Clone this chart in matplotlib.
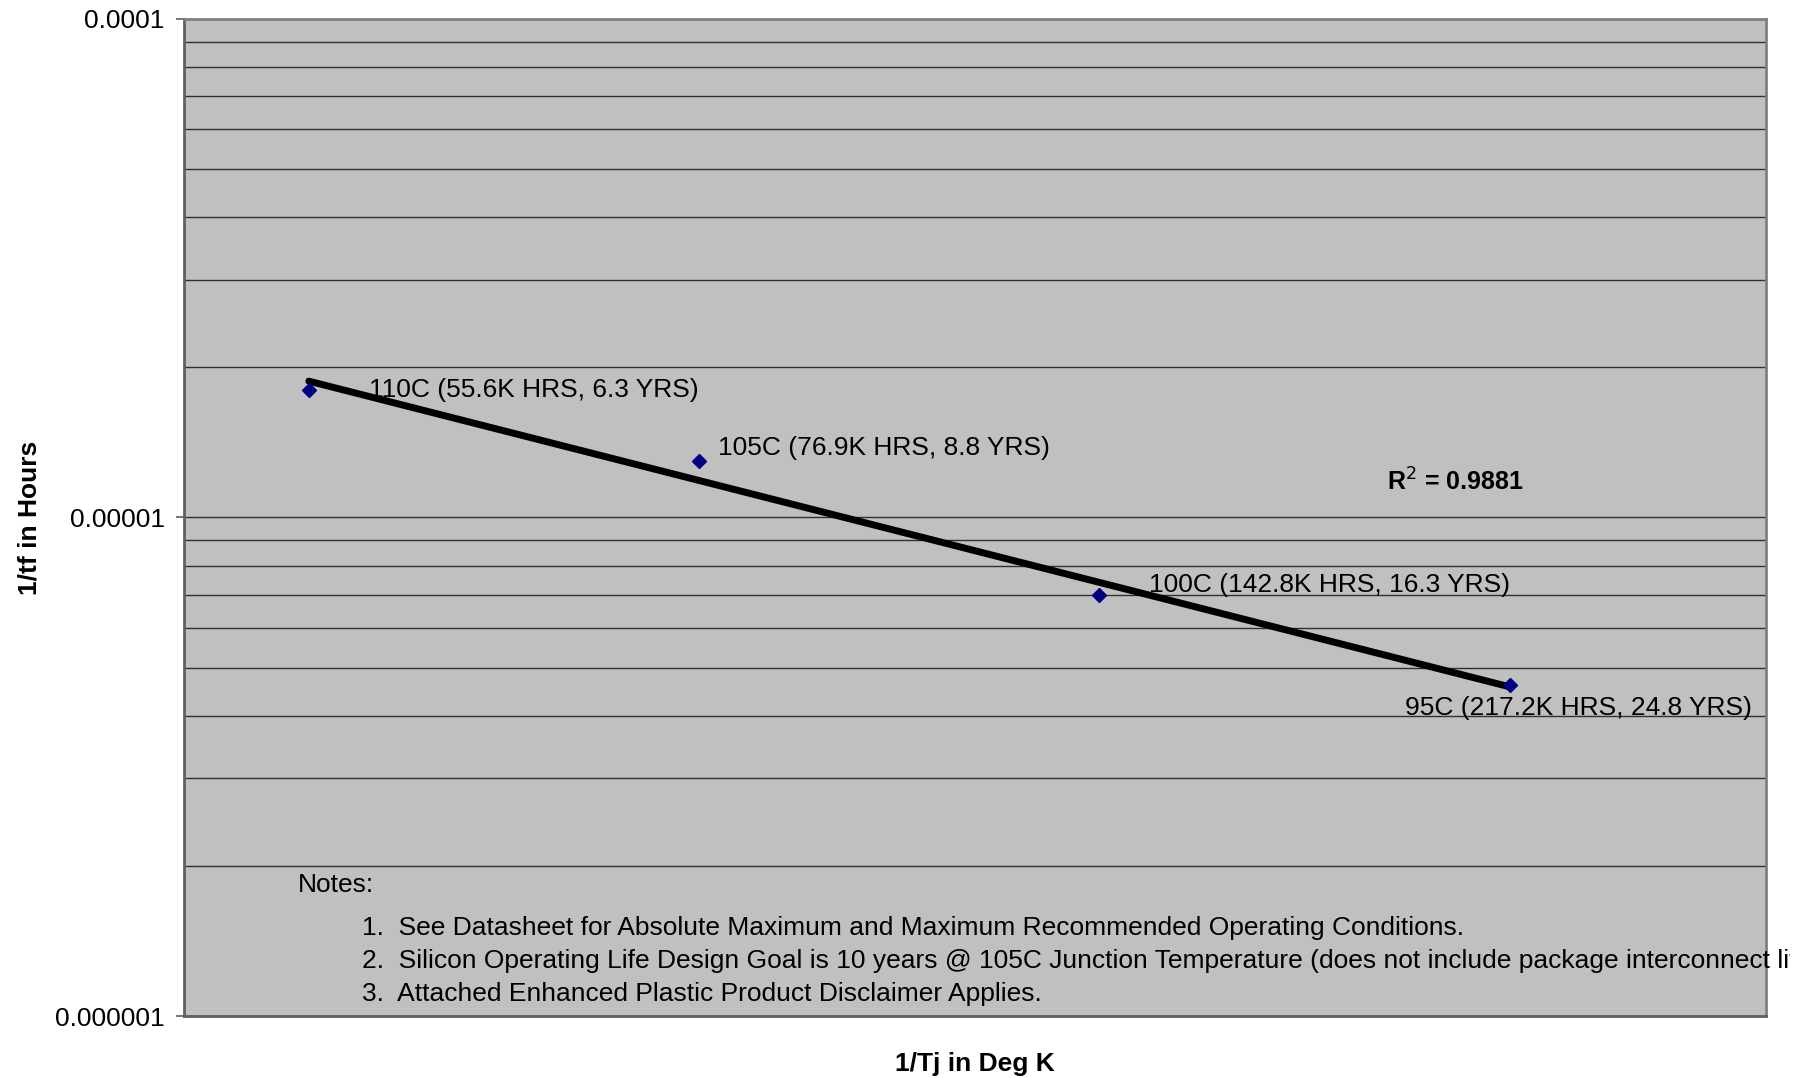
import numpy as np
import matplotlib.pyplot as plt
from matplotlib.ticker import LogLocator, NullFormatter, FixedFormatter, FixedLocator
from matplotlib.transforms import Bbox, TransformedBbox

plt.rcParams["font.family"] = ["Liberation Sans", "DejaVu Sans"]

# ── Data ────────────────────────────────────────────────────
temps_c = [110, 105, 100, 95]
hours_k = [55.6, 76.9, 142.8, 217.2]
years = [6.3, 8.8, 16.3, 24.8]
r_squared = 0.9881

inv_tj = [1 / (t + 273.15) for t in temps_c]
inv_tf = [1 / (h * 1000) for h in hours_k]
point_labels = [f"{t}C ({h}K HRS, {y} YRS)" for t, h, y in zip(temps_c, hours_k, years)]
label_offsets = [(43, 0), (14, 9), (36, 7), (-76, -16)]   # points

notes = [
    "1.  See Datasheet for Absolute Maximum and Maximum Recommended Operating Conditions.",
    "2.  Silicon Operating Life Design Goal is 10 years @ 105C Junction Temperature (does not include package interconnect life).",
    "3.  Attached Enhanced Plastic Product Disclaimer Applies.",
]

FS = 19

# ── Figure ──────────────────────────────────────────────────
fig = plt.figure(figsize=(18.13, 10.78), dpi=100)
ax = fig.add_axes([0.1015, 0.0575, 0.8725, 0.925])
ax.set_facecolor("#C0C0C0")

ax.set_yscale("log")
ax.set_xlim(0.0025989, 0.0027389)
ax.set_ylim(1e-6, 1e-4)

# gridlines (major + minor)
ax.yaxis.set_major_locator(FixedLocator([1e-6, 1e-5, 1e-4]))
ax.yaxis.set_major_formatter(FixedFormatter(["0.000001", "0.00001", "0.0001"]))
ax.yaxis.set_minor_locator(LogLocator(base=10, subs=np.arange(2, 10)))
ax.yaxis.set_minor_formatter(NullFormatter())
ax.grid(which="both", axis="y", color="#303030", linewidth=1)
ax.set_axisbelow(True)
ax.set_xticks([])
ax.tick_params(axis="y", which="major", length=6, width=1.2, color="#606060",
               labelsize=FS, pad=8)
ax.tick_params(axis="y", which="minor", length=0)

for s in ax.spines.values():
    s.set_color("#808080")
    s.set_linewidth(2)
ax.spines["left"].set_color("#606060")
ax.spines["bottom"].set_color("#606060")

# trendline (exponential fit)
coef = np.polyfit(inv_tj, np.log(inv_tf), 1)
xfit = np.linspace(min(inv_tj), max(inv_tj), 50)
ax.plot(xfit, np.exp(np.polyval(coef, xfit)), color="black", linewidth=5,
        solid_capstyle="round", zorder=3)

# data points
ax.plot(inv_tj, inv_tf, linestyle="none", marker="D", markersize=7,
        color="#000080", zorder=4)

for x, y, lab, off in zip(inv_tj, inv_tf, point_labels, label_offsets):
    ax.annotate(lab, (x, y), xytext=off, textcoords="offset points",
                ha="left", va="center", fontsize=FS, color="black", zorder=5)

ax.text(1387 / 1813, 1 - 482 / 1078, f"R$^2$ = {r_squared}", transform=fig.transFigure,
        fontsize=18, fontweight="bold", ha="left", va="center")

# notes
fig.text(298 / 1813, 1 - 885 / 1078, "Notes:", fontsize=FS, ha="left", va="center")
clip = TransformedBbox(Bbox([[0, 0], [1790 / 1813, 1]]), fig.transFigure)
for i, n in enumerate(notes):
    t = fig.text(362 / 1813, 1 - (928 + 33 * i) / 1078, n, fontsize=FS,
                 ha="left", va="center")
    t.set_clip_box(clip)
    t.set_clip_on(True)

ax.set_xlabel("1/Tj in Deg K", fontsize=FS, fontweight="bold", labelpad=26)
ax.set_ylabel("1/tf in Hours", fontsize=FS, fontweight="bold")
ax.yaxis.set_label_coords(-0.09, 0.5)

fig.savefig("out.png", dpi=100, facecolor="white")
